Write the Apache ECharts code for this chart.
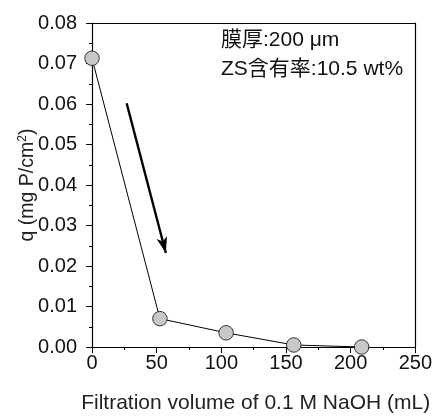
<!DOCTYPE html>
<html>
<head>
<meta charset="utf-8">
<script src="https://cdn.jsdelivr.net/npm/echarts@6/dist/echarts.min.js"></script>
<style>
  html, body { margin: 0; padding: 0; background: #fff; }
  #chart { width: 435px; height: 419px; }
</style>
</head>
<body>
<div id="chart"></div>
<script>
// filtration volume (mL) and released amount q (mg P/cm2)
var volumes = [0, 52.5, 103.7, 156, 208.5];
var qValues = [0.0713, 0.0070, 0.0035, 0.0005, 0.0000];
// arrow from / to, in data units
var arrowFrom = [26.8, 0.0602];
var arrowTo = [57.1, 0.0232];
var noteLines = ['膜厚:200 μm', 'ZS含有率:10.5 wt%'];

var font = '"Liberation Sans", Arial, "Noto Sans CJK JP", sans-serif';
var chart = echarts.init(document.getElementById('chart'));

var points = volumes.map(function (v, i) { return [v, qValues[i]]; });

var option = {
  animation: false,
  grid: { left: 92, right: 16, top: 23, bottom: 68 },
  xAxis: [
    {
      type: 'value', min: 0, max: 250, interval: 50,
      name: 'Filtration volume of 0.1 M NaOH (mL)',
      nameLocation: 'middle', nameGap: 46,
      nameTextStyle: { fontFamily: font, fontSize: 21, color: '#222', padding: [0, 0, 0, 4] },
      axisLine: { lineStyle: { color: '#000', width: 1.2 } },
      axisTick: { length: 6, lineStyle: { color: '#000' } },
      minorTick: { show: true, splitNumber: 2, length: 3, lineStyle: { color: '#000' } },
      axisLabel: { fontFamily: font, fontSize: 20, color: '#111', margin: 6 },
      splitLine: { show: false }
    },
    {
      type: 'value', min: 0, max: 250, position: 'top',
      axisLine: { show: true, onZero: false, lineStyle: { color: '#000', width: 1.2 } },
      axisTick: { show: false }, axisLabel: { show: false }, splitLine: { show: false }
    }
  ],
  yAxis: [
    {
      type: 'value', min: 0, max: 0.08, interval: 0.01,
      name: 'q (mg P/cm{sup|2})',
      nameLocation: 'middle', nameGap: 54, nameRotate: 90,
      nameMoveOverlap: false,
      nameTextStyle: {
        fontFamily: font, fontSize: 19.5, color: '#222',
        rich: { sup: { fontFamily: font, fontSize: 12, verticalAlign: 'top', padding: [0, 0, 9, 0] } }
      },
      axisLine: { show: true, lineStyle: { color: '#000', width: 1.2 } },
      axisTick: { length: 6, lineStyle: { color: '#000' } },
      minorTick: { show: true, splitNumber: 2, length: 3, lineStyle: { color: '#000' } },
      axisLabel: {
        fontFamily: font, fontSize: 20, color: '#111', margin: 15,
        formatter: function (v) { return v.toFixed(2); }
      },
      splitLine: { show: false }
    },
    {
      type: 'value', min: 0, max: 0.08, position: 'right',
      axisLine: { show: true, onZero: false, lineStyle: { color: '#000', width: 1.2 } },
      axisTick: { show: false }, axisLabel: { show: false }, splitLine: { show: false }
    }
  ],
  series: [
    {
      type: 'line',
      data: points,
      symbol: 'circle',
      symbolSize: 14.5,
      lineStyle: { color: '#000', width: 1 },
      itemStyle: { color: '#c8c8c8', borderColor: '#333', borderWidth: 1 },
      z: 3,
      markLine: {
        silent: true,
        symbol: ['none', 'arrow'],
        symbolSize: [8, 16],
        label: { show: false },
        lineStyle: { color: '#000', width: 2.4, type: 'solid' },
        data: [[{ coord: arrowFrom }, { coord: arrowTo }]]
      }
    }
  ],
  graphic: [
    {
      type: 'text', left: 221, top: 30,
      style: { text: noteLines[0], fontFamily: font, fontSize: 21, fill: '#111' }
    },
    {
      type: 'text', left: 221, top: 59,
      style: { text: noteLines[1], fontFamily: font, fontSize: 21, fill: '#111' }
    }
  ]
};
chart.setOption(option);
</script>
</body>
</html>
